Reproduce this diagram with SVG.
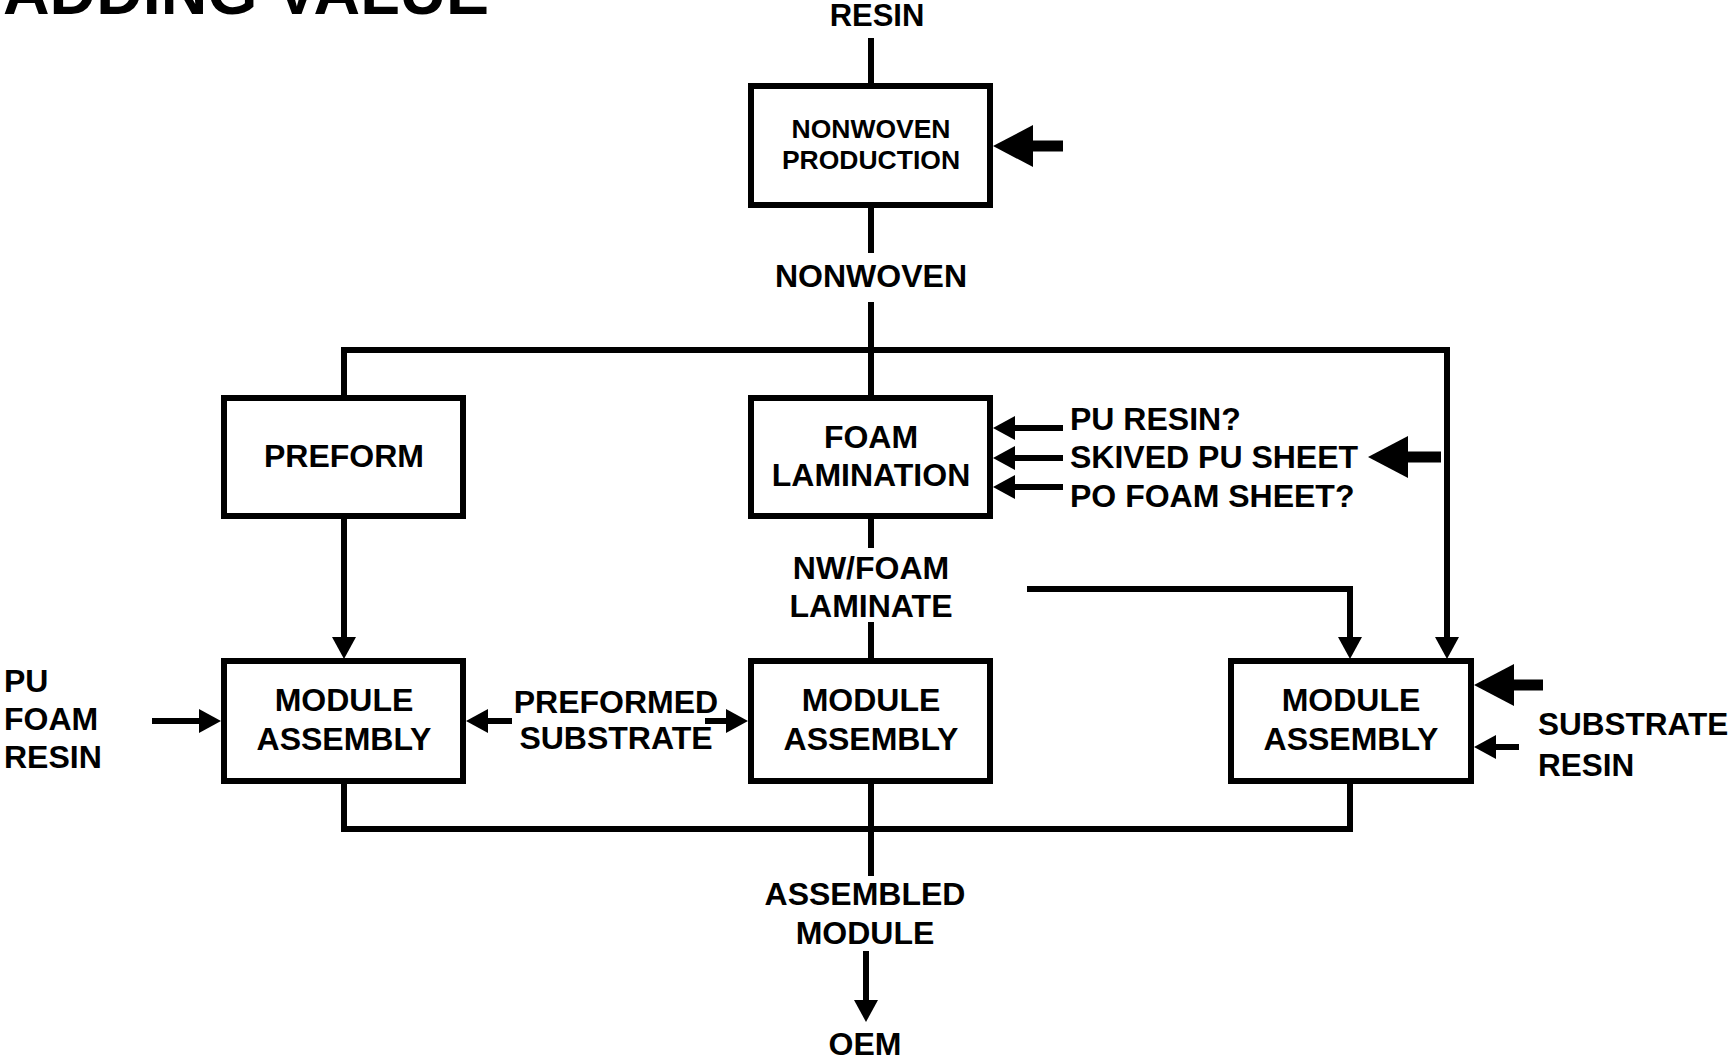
<svg xmlns="http://www.w3.org/2000/svg" width="1733" height="1062" viewBox="0 0 1733 1062">
<style>
.box{fill:#fff;stroke:#000;stroke-width:6}
.ln{fill:none;stroke:#000;stroke-width:6}
.thick{fill:none;stroke:#000;stroke-width:11}
text{font-family:"Liberation Sans",Arial,sans-serif;font-weight:bold;fill:#000}
.t{font-size:32px;text-anchor:middle}
.s{font-size:26.5px;text-anchor:middle}
.l{font-size:32px}
.r{font-size:31.5px}
</style>
<defs>
<marker id="ah" markerUnits="userSpaceOnUse" markerWidth="22" markerHeight="24" refX="0" refY="12" orient="auto" overflow="visible">
<path d="M0,0 L22,12 L0,24 z" fill="#000"/>
</marker>
<marker id="big" markerUnits="userSpaceOnUse" markerWidth="40" markerHeight="42" refX="0" refY="21" orient="auto" overflow="visible">
<path d="M0,0 L40,21 L0,42 z" fill="#000"/>
</marker>
</defs>
<rect width="1733" height="1062" fill="#fff"/>
<text x="3" y="14" style="font-size:64.5px">ADDING VALUE</text>
<g id="connectors">
<path class="ln" d="M871,38 V83"/>
<path class="ln" d="M871,208 V253"/>
<path class="ln" d="M871,302 V395"/>
<path class="ln" d="M344,395 V350 H1447 V637" marker-end="url(#ah)"/>
<path class="ln" d="M344,519 V637" marker-end="url(#ah)"/>
<path class="ln" d="M871,519 V548"/>
<path class="ln" d="M871,622 V658"/>
<path class="ln" d="M1027,589 H1350 V637" marker-end="url(#ah)"/>
<path class="ln" d="M344,784 V829 H1350 V784"/>
<path class="ln" d="M871,784 V876"/>
<path class="ln" d="M866,951 V1000" marker-end="url(#ah)"/>
<path class="ln" d="M152,721 H199" marker-end="url(#ah)"/>
<path class="ln" d="M512,721 H488" marker-end="url(#ah)"/>
<path class="ln" d="M705,721 H726" marker-end="url(#ah)"/>
<path class="ln" d="M1063,428 H1015" marker-end="url(#ah)"/>
<path class="ln" d="M1063,458 H1015" marker-end="url(#ah)"/>
<path class="ln" d="M1063,487 H1015" marker-end="url(#ah)"/>
<path class="ln" d="M1519,747 H1496" marker-end="url(#ah)"/>
<path class="thick" d="M1063,146 H1033" marker-end="url(#big)"/>
<path class="thick" d="M1441,457 H1408" marker-end="url(#big)"/>
<path class="thick" d="M1543,685 H1514" marker-end="url(#big)"/>
</g>
<g id="nonwoven-production">
<rect class="box" x="751" y="86" width="239" height="119"/>
<text class="s" x="871" y="138">NONWOVEN</text>
<text class="s" x="871" y="169">PRODUCTION</text>
</g>
<g id="preform">
<rect class="box" x="224" y="398" width="239" height="118"/>
<text class="t" x="344" y="467">PREFORM</text>
</g>
<g id="foam-lamination">
<rect class="box" x="751" y="398" width="239" height="118"/>
<text class="t" x="871" y="448">FOAM</text>
<text class="t" x="871" y="486">LAMINATION</text>
</g>
<g id="module-assembly-left">
<rect class="box" x="224" y="661" width="239" height="120"/>
<text class="t" x="344" y="711">MODULE</text>
<text class="t" x="344" y="750">ASSEMBLY</text>
</g>
<g id="module-assembly-middle">
<rect class="box" x="751" y="661" width="239" height="120"/>
<text class="t" x="871" y="711">MODULE</text>
<text class="t" x="871" y="750">ASSEMBLY</text>
</g>
<g id="module-assembly-right">
<rect class="box" x="1231" y="661" width="240" height="120"/>
<text class="t" x="1351" y="711">MODULE</text>
<text class="t" x="1351" y="750">ASSEMBLY</text>
</g>
<g id="labels">
<text x="877" y="26" style="font-size:31px;text-anchor:middle">RESIN</text>
<text class="t" x="871" y="287">NONWOVEN</text>
<text class="l" x="1070" y="430">PU RESIN?</text>
<text class="l" x="1070" y="468">SKIVED PU SHEET</text>
<text class="l" x="1070" y="507">PO FOAM SHEET?</text>
<text class="t" x="871" y="579">NW/FOAM</text>
<text class="t" x="871" y="617">LAMINATE</text>
<text class="t" x="616" y="713">PREFORMED</text>
<text class="t" x="616" y="749">SUBSTRATE</text>
<text class="l" x="4" y="692">PU</text>
<text class="l" x="4" y="730">FOAM</text>
<text class="l" x="4" y="768">RESIN</text>
<text class="r" x="1538" y="735">SUBSTRATE</text>
<text class="r" x="1538" y="776">RESIN</text>
<text class="t" x="865" y="905">ASSEMBLED</text>
<text class="t" x="865" y="944">MODULE</text>
<text class="t" x="865" y="1055">OEM</text>
</g>
</svg>
